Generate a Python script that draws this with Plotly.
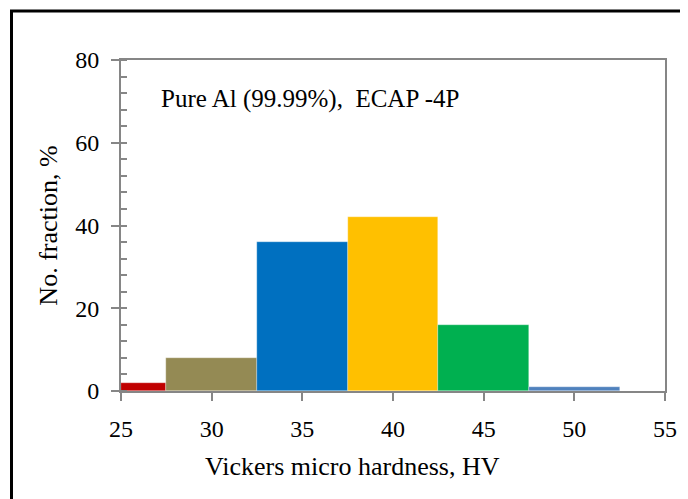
import plotly.graph_objects as go

bin_left = [25, 27.5, 32.5, 37.5, 42.5, 47.5]
bin_right = [27.5, 32.5, 37.5, 42.5, 47.5, 52.5]
fractions = [2, 8, 36, 42, 16, 1]
colors = ["#C00000", "#948A54", "#0070C0", "#FFC000", "#00B050", "#4F81BD"]
x_ticks = [25, 30, 35, 40, 45, 50, 55]
y_ticks = [0, 20, 40, 60, 80]

centers = [(a + b) / 2 for a, b in zip(bin_left, bin_right)]
widths = [b - a for a, b in zip(bin_left, bin_right)]

font = "Liberation Serif, Times New Roman, serif"
axcol = "#868686"

W, H = 680, 491
L, T, R, B = 113, 52, 23, 108
PW, PH = W - L - R, H - T - B

fig = go.Figure()
fig.add_trace(go.Bar(
    x=centers, y=fractions, width=widths,
    marker=dict(color=colors, line=dict(color="rgba(255,255,255,0.6)", width=0.5)),
    showlegend=False,
))

fig.update_layout(
    width=W, height=H,
    margin=dict(l=L, r=R, t=T, b=B),
    paper_bgcolor="white", plot_bgcolor="white",
    font=dict(family=font, size=24, color="black"),
    bargap=0,
)
fig.update_xaxes(
    range=[25, 55], tickvals=x_ticks, ticktext=[str(v) for v in x_ticks],
    showgrid=False, zeroline=False,
    showline=True, linecolor=axcol, linewidth=2, mirror=True,
    ticks="outside", ticklen=8, tickwidth=2, tickcolor=axcol,
    ticklabelstandoff=7, tickfont=dict(size=24),
)
fig.update_yaxes(
    range=[0, 80], tickvals=y_ticks, ticktext=[str(v) for v in y_ticks],
    showgrid=False, zeroline=False,
    showline=True, linecolor=axcol, linewidth=2, mirror=True,
    ticks="outside", ticklen=8, tickwidth=2, tickcolor=axcol,
    ticklabelstandoff=7, tickfont=dict(size=24),
    minor=dict(dtick=4, ticks="inside", ticklen=6, tickwidth=1.5, tickcolor=axcol, showgrid=False),
    title=dict(text="No. fraction, %", font=dict(size=26), standoff=10),
)

# x-axis title (offset left of the plot centre, as in the original)
fig.add_annotation(
    x=(344 - L) / PW, y=1 - (458 - T) / PH, xref="paper", yref="paper",
    text="Vickers micro hardness, HV", showarrow=False,
    xanchor="center", yanchor="middle", font=dict(size=26),
)

fig.add_annotation(
    x=0.07, y=0.882, xref="paper", yref="paper",
    text="Pure Al (99.99%),\u00a0 ECAP -4P", showarrow=False,
    xanchor="left", yanchor="middle", font=dict(size=25),
)

# outer frame of the figure
fig.add_shape(
    type="rect", xref="paper", yref="paper",
    x0=(3.5 - L) / PW, x1=(W + 20 - L) / PW,
    y0=1 - (H + 20 - T) / PH, y1=1 + (T - 3) / PH,
    line=dict(color="black", width=3), fillcolor="rgba(0,0,0,0)",
    layer="above",
)

fig.write_html("out.html")
